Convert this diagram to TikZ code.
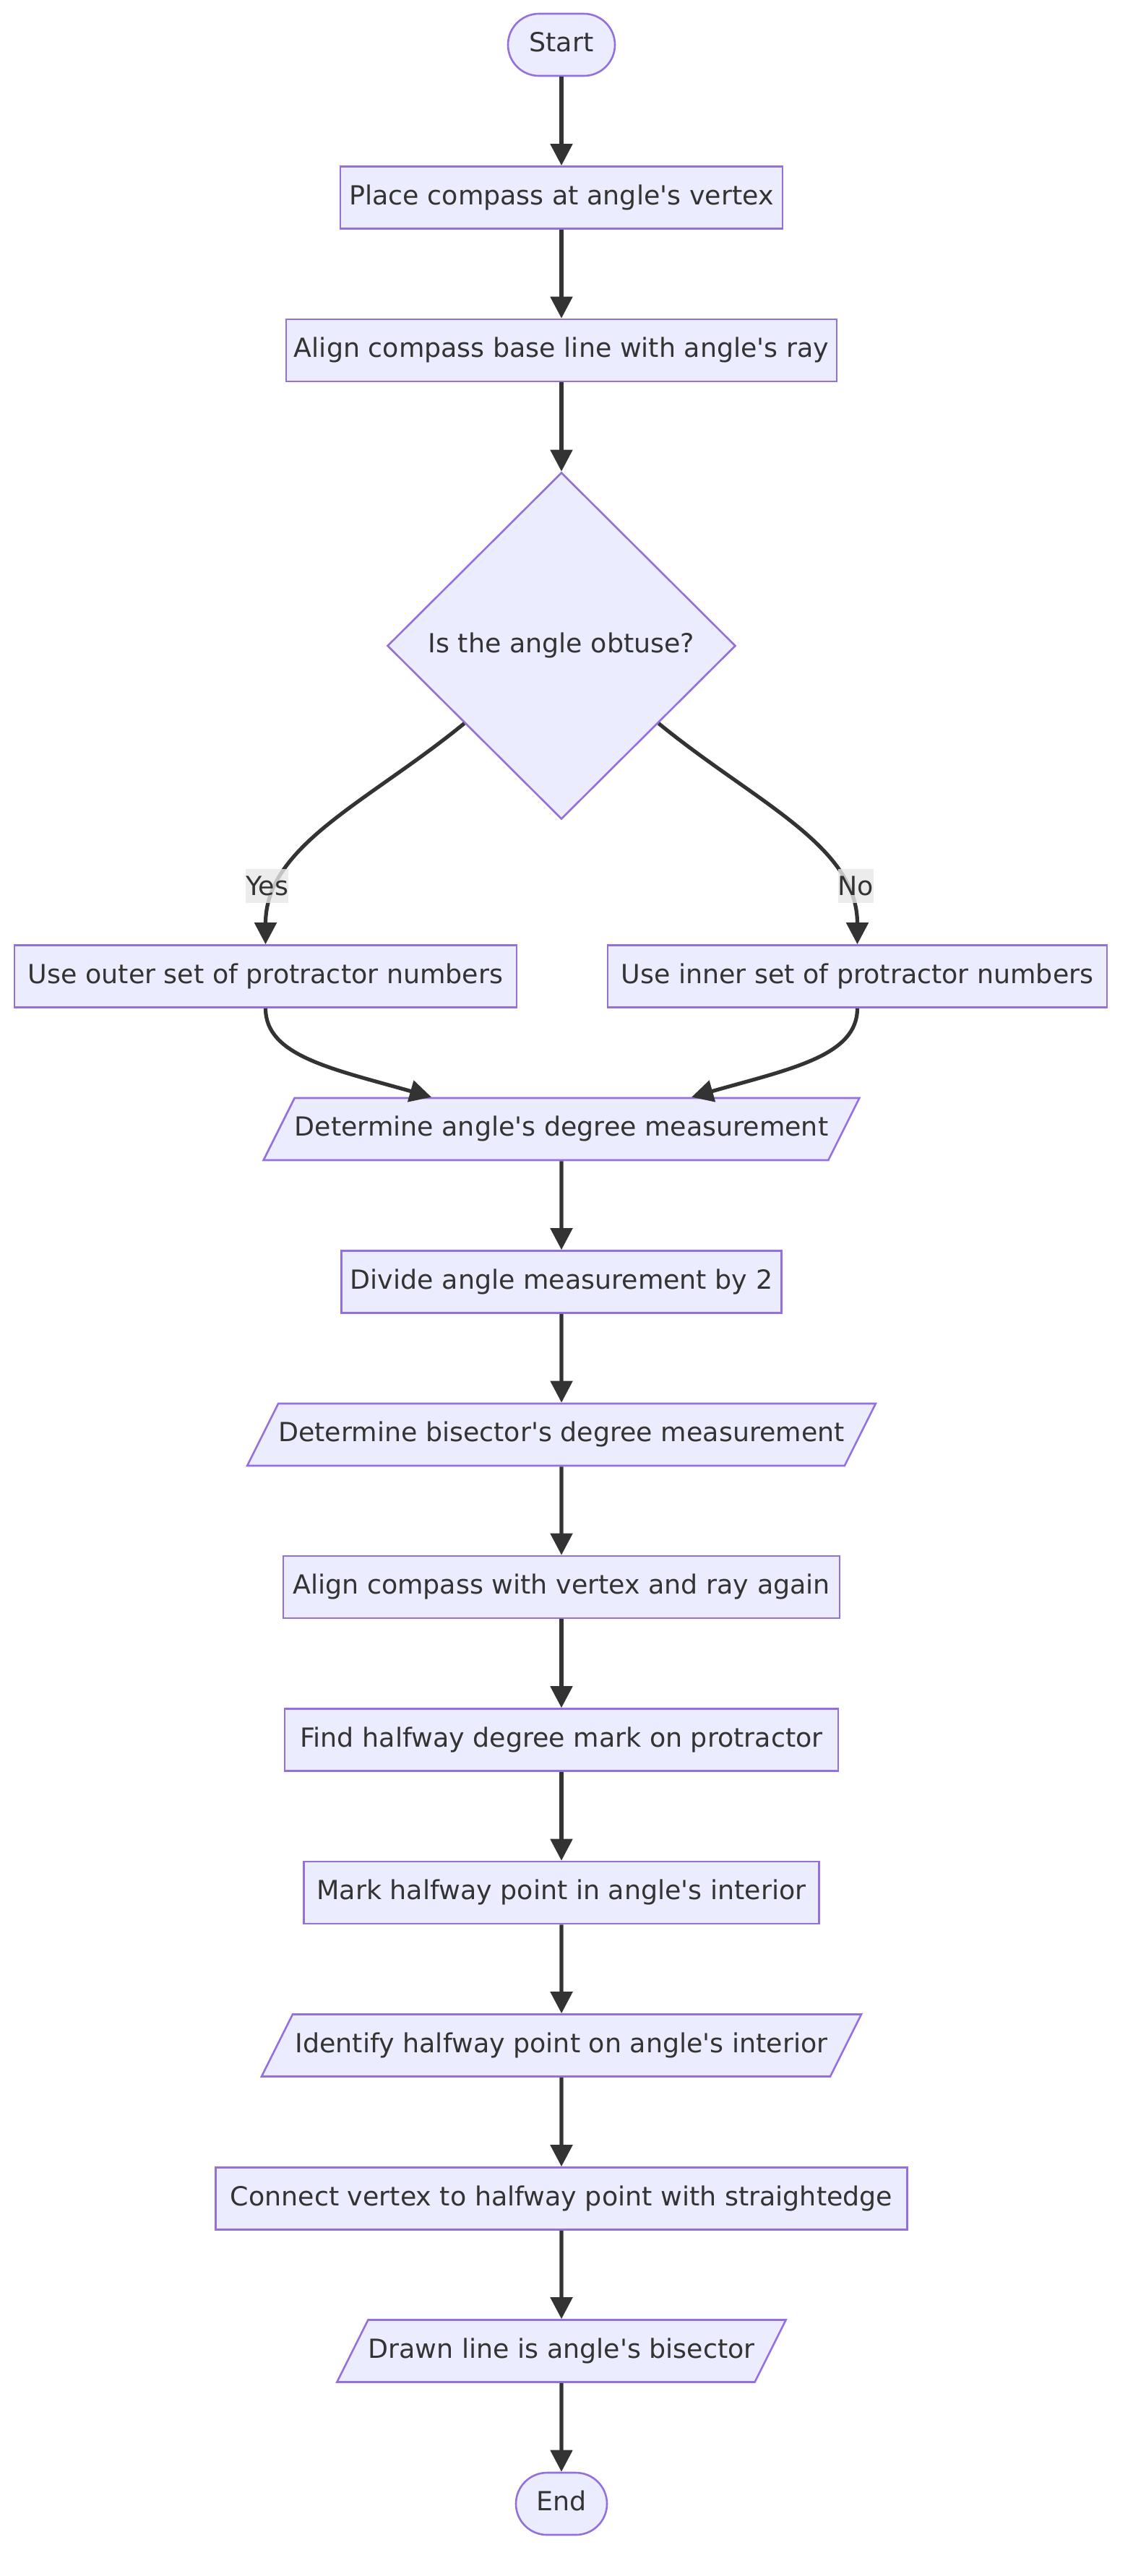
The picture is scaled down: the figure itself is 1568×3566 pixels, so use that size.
\documentclass[tikz,border=0pt]{standalone}
\usepackage{fontspec}
\newfontfamily\chartfont{DejaVu Sans}
\usepackage{tikz}
\usetikzlibrary{shapes.geometric,arrows.meta,calc}
\definecolor{nodefill}{HTML}{ECECFF}
\definecolor{nodeline}{HTML}{9370DB}
\definecolor{edgeline}{HTML}{333333}
\definecolor{labelfill}{HTML}{E8E8E8}
\tikzset{
  base/.style={draw=nodeline,fill=nodefill,line width=1.3pt,text=edgeline,
    font=\chartfont\fontsize{18.2}{22}\selectfont,text height=13.5pt,text depth=4pt,
    inner ysep=12.75pt,minimum height=43pt},
  stepbox/.style={base,rectangle,inner xsep=0pt},
  terminal/.style={base,rectangle,rounded corners=21.5pt,inner xsep=0pt},
  iobox/.style={base,trapezium,trapezium left angle=63.43,trapezium right angle=116.57,
    trapezium stretches body,inner xsep=0pt},
  decision/.style={base,diamond,minimum width=241pt,minimum height=240pt},
  flow/.style={draw=edgeline,line width=2.6pt,-{Triangle[length=15pt,width=15pt]}},
  answer/.style={fill=labelfill,fill opacity=0.8,text opacity=1,text=edgeline,
    font=\chartfont\fontsize{18.2}{22}\selectfont,inner sep=0pt,minimum height=23.5pt}
}

\begin{document}
\begin{tikzpicture}[x=0.5pt,y=-0.5pt]
        %%% CANVAS %%%
        \fill[white] (0,0) rectangle (1568,3566);
        \useasboundingbox (0,0) rectangle (1568,3566);

        %%% NODES %%%
        \node[terminal,minimum width=74pt] (start) at (777,62) {Start};
        \node[stepbox,minimum width=306pt] (place) at (777,273.5) {Place compass at angle's vertex};
        \node[stepbox,minimum width=381pt] (align) at (777,485) {Align compass base line with angle's ray};
        \node[decision] (obtuse) at (777,894) {Is the angle obtuse?};
        \node[stepbox,minimum width=347.5pt] (outer) at (367.5,1351.5) {Use outer set of protractor numbers};
        \node[stepbox,minimum width=345.5pt] (inner) at (1186.5,1351.5) {Use inner set of protractor numbers};
        \node[iobox,minimum width=406pt] (dega) at (777,1563) {Determine angle's degree measurement};
        \node[stepbox,minimum width=304.5pt] (halve) at (777,1774.5) {Divide angle measurement by 2};
        \node[iobox,minimum width=430pt] (degb) at (777,1986) {Determine bisector's degree measurement};
        \node[stepbox,minimum width=385pt] (realign) at (777,2197) {Align compass with vertex and ray again};
        \node[stepbox,minimum width=383pt] (findmark) at (777,2408.5) {Find halfway degree mark on protractor};
        \node[stepbox,minimum width=356.5pt] (markpt) at (777,2620) {Mark halfway point in angle's interior};
        \node[iobox,minimum width=415pt] (identify) at (777,2831.5) {Identify halfway point on angle's interior};
        \node[stepbox,minimum width=478.5pt] (connect) at (777,3043.5) {Connect vertex to halfway point with straightedge};
        \node[iobox,minimum width=309pt] (drawn) at (777,3254.5) {Drawn line is angle's bisector};
        \node[terminal,minimum width=63pt] (finish) at (777,3466) {End};

        %%% CONNECTORS %%%
        \draw[flow] (start) -- (place);
        \draw[flow] (place) -- (align);
        \draw[flow] (align) -- (obtuse);
        \draw[flow] ($(obtuse.west)!0.445!(obtuse.south)$) .. controls (510,1110) and (367.5,1170) .. node[answer,pos=0.78,xshift=-8.5pt]{Yes} (outer.north);
        \draw[flow] ($(obtuse.east)!0.445!(obtuse.south)$) .. controls (1044,1110) and (1186.5,1170) .. node[answer,pos=0.78,xshift=8.5pt]{No} (inner.north);
        \draw[flow] (outer.south) .. controls +(0,66) and +(-137,-39) .. ($(dega.north)+(-180,0)$);
        \draw[flow] (inner.south) .. controls +(0,66) and +(137,-39) .. ($(dega.north)+(180,0)$);
        \draw[flow] (dega) -- (halve);
        \draw[flow] (halve) -- (degb);
        \draw[flow] (degb) -- (realign);
        \draw[flow] (realign) -- (findmark);
        \draw[flow] (findmark) -- (markpt);
        \draw[flow] (markpt) -- (identify);
        \draw[flow] (identify) -- (connect);
        \draw[flow] (connect) -- (drawn);
        \draw[flow] (drawn) -- (finish);
    \end{tikzpicture}
\end{document}
